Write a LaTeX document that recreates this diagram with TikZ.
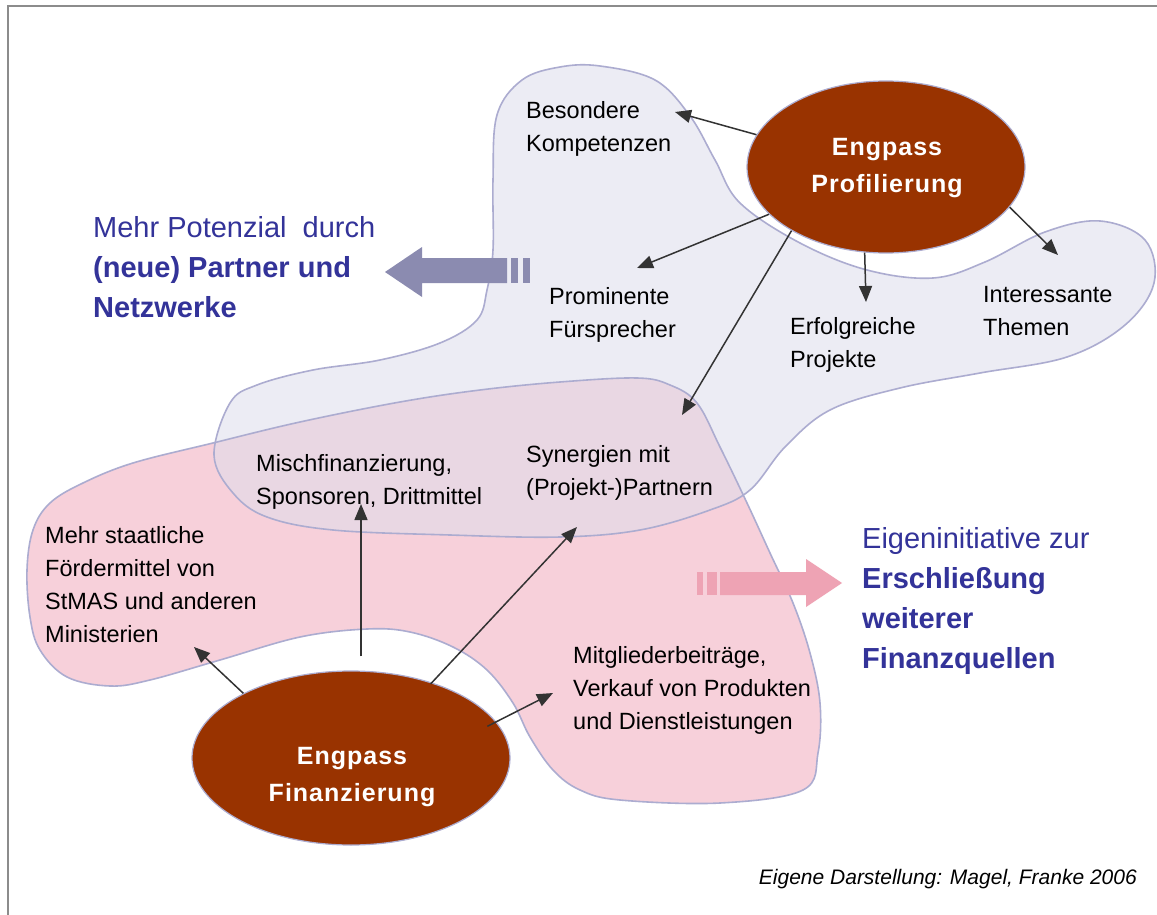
\documentclass[tikz,border=0pt]{standalone}
\usepackage{fontspec}
\setmainfont{Liberation Sans}
\usetikzlibrary{arrows.meta,shapes.geometric}
\definecolor{blobline}{RGB}{172,172,208}
\definecolor{greyfill}{RGB}{222,222,236}
\definecolor{pinkfill}{RGB}{247,208,218}
\definecolor{ellbrown}{RGB}{153,51,0}
\definecolor{headblue}{RGB}{51,51,153}
\definecolor{arrowgrey}{RGB}{139,139,176}
\definecolor{arrowpink}{RGB}{238,163,180}
\definecolor{conncol}{RGB}{51,51,51}
\definecolor{framecol}{RGB}{140,140,140}
\begin{document}
\begin{tikzpicture}[x=1pt,y=-1pt,
 body/.style={anchor=base west, inner sep=0pt, align=left, font=\fontsize{23.5}{33}\selectfont},
 headtext/.style={anchor=base west, inner sep=0pt, align=left, text=headblue, font=\fontsize{29}{40}\selectfont},
 ell/.style={ellipse, draw=blobline, line width=1.2pt, fill=ellbrown, inner sep=0pt},
 etext/.style={anchor=base, inner sep=0pt, align=center, text=white, font=\fontsize{25}{37}\selectfont\bfseries\addfontfeature{LetterSpace=4}},
 conn/.style={draw=conncol, line width=1.5pt, -{Triangle[length=16pt,width=13pt]}},
 blob/.style={draw=blobline, line width=1.6pt}
]
\useasboundingbox (0,0) rectangle (1157,915);
\fill[white] (0,0) rectangle (1157,915);
\draw[framecol, line width=2.5pt] (8,915) |- (1157,6);

\def\pinkpath{plot[smooth cycle, tension=0.6] coordinates {
 (27,570) (33,530) (50,503) (83,483) (133,463) (213,443) (300,422) (400,402) (480,390)
 (560,382) (637,378) (670,385) (697,403) (720,447) (747,503) (770,553) (793,603)
 (810,653) (820,703) (818,753) (803,790) (720,803) (620,800) (580,790) (553,770)
 (530,737) (513,703) (487,670) (453,647) (410,632) (367,629) (300,637) (220,660)
 (150,680) (110,686) (67,677) (40,650) (30,617)}}
\def\greypath{plot[smooth cycle, tension=0.6] coordinates {
 (600,66) (655,80) (690,116) (715,160) (740,203) (800,243) (867,270) (933,278)
 (985,262) (1045,232) (1100,221) (1145,240) (1154,283) (1125,325) (1067,357)
 (980,373) (900,388) (830,410) (785,447) (750,490) (710,510) (640,530) (560,537)
 (450,535) (333,530) (267,517) (233,493) (214,455) (230,403) (257,385) (313,370)
 (380,360) (440,343) (477,320) (487,290) (493,250) (493,180) (497,115) (522,80) (560,67)}}

\fill[pinkfill] \pinkpath;
\fill[greyfill, fill opacity=0.55] \greypath;
\draw[blob] \pinkpath;
\draw[blob] \greypath;

% big arrows
\fill[arrowgrey] (385,272) -- (422,247) -- (422,258) -- (507,258) -- (507,283) -- (422,283) -- (422,297) -- cycle;
\fill[arrowgrey] (511,258) rectangle (518,283);
\fill[arrowgrey] (523,258) rectangle (530,283);
\fill[arrowpink] (842,583) -- (806,559) -- (806,572) -- (720,572) -- (720,595) -- (806,595) -- (806,607) -- cycle;
\fill[arrowpink] (697,572) rectangle (703,595);
\fill[arrowpink] (707,572) rectangle (717,595);

% ellipses
\node[ell, minimum width=278pt, minimum height=172pt] (ellP) at (886,167) {};
\node[ell, minimum width=318pt, minimum height=174pt] (ellF) at (351,758) {};
\node[etext] (tP) at (887,193) {Engpass\\Profilierung};
\node[etext] (tF) at (352,801) {Engpass\\Finanzierung};

% texts (anchor = baseline of last line)
\node[body] (besondere) at (526,152) {Besondere\\Kompetenzen};
\node[body] (prominente) at (549,337) {Prominente\\Fürsprecher};
\node[body] (erfolg) at (790,367) {Erfolgreiche\\Projekte};
\node[body] (themen) at (983,335) {Interessante\\Themen};
\node[body] (synergien) at (526,495) {Synergien mit\\(Projekt-)Partnern};
\node[body] (misch) at (256,504) {Mischfinanzierung,\\Sponsoren, Drittmittel};
\node[body] (staat) at (45,642) {Mehr staatliche\\Fördermittel von\\StMAS und anderen\\Ministerien};
\node[body] (mitglied) at (573,729) {Mitgliederbeiträge,\\Verkauf von Produkten\\und Dienstleistungen};
\node[headtext] (potenzial) at (93,317) {Mehr Potenzial~ durch\\\textbf{(neue) Partner und}\\\textbf{Netzwerke}};
\node[headtext] (eigen) at (862,668) {Eigeninitiative zur\\\textbf{Erschließung}\\\textbf{weiterer}\\\textbf{Finanzquellen}};
\node[anchor=base east, inner sep=0pt, font=\fontsize{21}{25}\selectfont\itshape] (credit) at (1137,884) {Eigene Darstellung: Magel, Franke 2006};

% connector end points
\coordinate (aB) at (675,112);
\coordinate (aPr) at (637,268);
\coordinate (aE) at (866,302);
\coordinate (aI) at (1058,255);
\coordinate (aS1) at (682,415);
\coordinate (aSt) at (194,647);
\coordinate (aM) at (361,504);
\coordinate (aS2) at (577,527);
\coordinate (aMi) at (553,693);

\draw[conn] (ellP.166) -- (aB);
\draw[conn] (ellP.202) -- (aPr);
\draw[conn] (ellP.256) -- (aE);
\draw[conn] (ellP.342) -- (aI);
\draw[conn] (ellP.214) -- (aS1);
\draw[conn] (ellF.149) -- (aSt);
\draw[conn, shorten <=14pt] (aM |- ellF.north) -- (aM);
\draw[conn, shorten <=-2pt] (ellF.43) -- (aS2);
\draw[conn, shorten <=-10pt] (ellF.14) -- (aMi);
\end{tikzpicture}
\end{document}
